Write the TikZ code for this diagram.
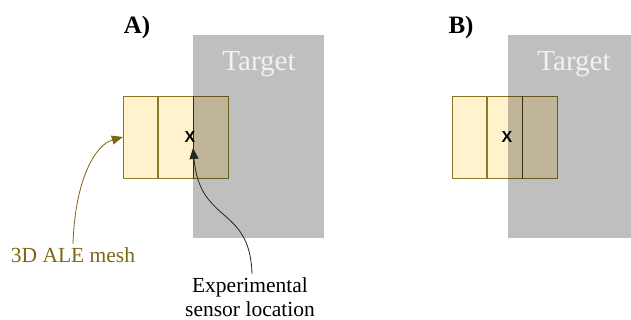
\documentclass[tikz,border=0pt]{standalone}
\usepackage{fontspec}
\setmainfont{Liberation Serif}
\newfontfamily\marksans{Liberation Sans}
\usetikzlibrary{arrows.meta,positioning}
\definecolor{targetgray}{HTML}{BFBFBF}
\definecolor{meshfill}{HTML}{FFF2CC}
\definecolor{meshline}{HTML}{8D7B2D}
\definecolor{meshtext}{HTML}{806515}
\definecolor{arrowdark}{HTML}{262626}

\begin{document}
\begin{tikzpicture}[x=1pt,y=-1pt,
  targetbox/.style={fill=targetgray,minimum width=131pt,minimum height=203pt,inner sep=0pt},
  meshcell/.style={draw=meshline,line width=0.8pt,fill=meshfill,minimum width=34.5pt,minimum height=82pt,inner sep=0pt},
  panellabel/.style={font=\bfseries\fontsize{25}{28}\selectfont},
  targetlabel/.style={text=white!95!black,font=\fontsize{29}{32}\selectfont},
  sensormark/.style={font=\marksans\bfseries\fontsize{16}{18}\selectfont},
  notelabel/.style={font=\fontsize{21.5}{24}\selectfont,align=center}]
\useasboundingbox (0,0) rectangle (631,320);
% panel A
\node[panellabel] (labA) at (137,27) {A)};
\node[targetbox] (targetA) at (258.5,136.5) {};
\node[targetlabel] (tlabA) at (259,64) {Target};
\begin{scope}[blend mode=multiply]
\node[meshcell] (cellA1) at (140.5,137) {};
\node[meshcell,right=0pt of cellA1] (cellA2) {};
\node[meshcell,right=0pt of cellA2] (cellA3) {};
\end{scope}
\node[sensormark] (xA) at (190,137) {X};
\coordinate (sensorA) at (193,148);
\node[notelabel,text=meshtext] (meshnote) at (73,255) {3D ALE mesh};
\node[notelabel] (sensornote) at (250,297) {Experimental\\sensor location};
\draw[meshtext,line width=0.8pt,-{Triangle[length=11pt,width=9pt]}] (meshnote.north) .. controls (75,180) and (95,145) .. (cellA1.west);
\draw[arrowdark,line width=0.8pt,-{Triangle[length=11pt,width=9pt]}] (sensornote.north) ++(2,0) .. controls (250,205) and (200,225) .. (sensorA);
% panel B
\node[panellabel] (labB) at (461,27) {B)};
\node[targetbox] (targetB) at (573.5,136.5) {};
\node[targetlabel] (tlabB) at (574,64) {Target};
\begin{scope}[blend mode=multiply]
\node[meshcell] (cellB1) at (469.5,137) {};
\node[meshcell,right=0pt of cellB1] (cellB2) {};
\node[meshcell,right=0pt of cellB2] (cellB3) {};
\end{scope}
\node[sensormark] (xB) at (507,137) {X};
\end{tikzpicture}
\end{document}
